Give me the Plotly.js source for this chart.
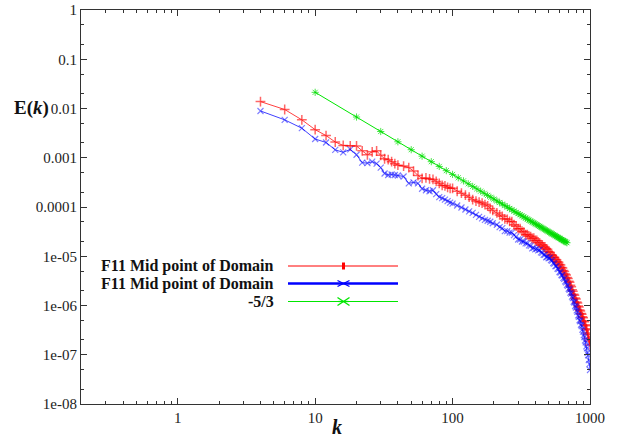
<!DOCTYPE html>
<html><head><meta charset="utf-8">
<script src="https://cdn.plot.ly/plotly-3.0.1.min.js"></script>
<style>html,body{margin:0;padding:0;background:#fff}#chart{width:622px;height:441px}</style>
</head><body><div id="chart"></div>
<script>
// wavenumbers of the two spectra
const kSpec = [4,6,8,10,12,14,16,18,20,22,24,26,28,30,32,34,36,38,40,
 44,48,52,56,60,64,68,72,76,80,84,88,92,96,100,
 108,116,124,132,140,148,156,164,172,180,188,196,
 210,220,230,240,250,260,270,280,290,300,310,320,330,340,350,360,370,380,390,400,
 410,420,430,440,450,460,470,480,490,500,510,520,530,540,550,560,570,580,590,600,
 610,620,630,640,650,660,670,680,690,700,710,720,730,740,750,760,770,780,790,800,
 810,820,830,840,850,860,870,880,890,900,910,920,930,940,950,960,970,980,990,1000];
// log10 E(k), red series
const log10E_red = [-1.86,-2.02,-2.23,-2.43,-2.55,-2.68,-2.75,-2.76,-2.76,-2.86,-2.94,-2.88,-2.86,-2.95,-3.02,-3.04,-3.08,-3.12,-3.15,
 -3.17,-3.20,-3.27,-3.36,-3.42,-3.41,-3.43,-3.44,-3.48,-3.52,-3.56,-3.57,-3.60,-3.62,-3.62,
 -3.68,-3.72,-3.76,-3.80,-3.85,-3.88,-3.90,-3.92,-3.95,-3.98,-4.03,-4.07,
 -4.12,-4.16,-4.19,-4.24,-4.25,-4.29,-4.30,-4.36,-4.39,-4.44,-4.44,-4.49,-4.51,-4.56,-4.56,-4.59,-4.60,-4.64,-4.63,-4.68,
 -4.68,-4.72,-4.73,-4.77,-4.77,-4.81,-4.81,-4.85,-4.86,-4.91,-4.92,-4.97,-4.98,-5.02,-5.02,-5.06,-5.07,-5.11,-5.12,-5.17,
 -5.18,-5.23,-5.24,-5.29,-5.31,-5.36,-5.38,-5.43,-5.45,-5.51,-5.53,-5.59,-5.62,-5.68,-5.71,-5.77,-5.79,-5.85,-5.87,-5.93,
 -5.95,-6.01,-6.03,-6.09,-6.11,-6.16,-6.18,-6.23,-6.25,-6.31,-6.33,-6.39,-6.41,-6.47,-6.49,-6.56,-6.59,-6.67,-6.72,-6.80];
// log10 E(k), blue series
const log10E_blue = [-2.05,-2.23,-2.40,-2.62,-2.69,-2.84,-2.89,-2.83,-2.94,-3.10,-3.11,-3.08,-3.12,-3.20,-3.32,-3.35,-3.34,-3.35,-3.36,
 -3.38,-3.52,-3.50,-3.52,-3.63,-3.66,-3.68,-3.66,-3.74,-3.80,-3.82,-3.85,-3.88,-3.91,-3.93,
 -3.97,-4.01,-4.05,-4.09,-4.12,-4.16,-4.20,-4.23,-4.26,-4.28,-4.30,-4.33,
 -4.36,-4.41,-4.43,-4.49,-4.49,-4.52,-4.52,-4.57,-4.60,-4.66,-4.66,-4.70,-4.70,-4.74,-4.74,-4.78,-4.79,-4.84,-4.83,-4.86,
 -4.85,-4.88,-4.87,-4.92,-4.93,-4.97,-4.97,-5.02,-5.01,-5.04,-5.03,-5.08,-5.09,-5.14,-5.15,-5.20,-5.20,-5.25,-5.26,-5.32,
 -5.33,-5.38,-5.39,-5.44,-5.46,-5.51,-5.53,-5.58,-5.60,-5.66,-5.68,-5.74,-5.76,-5.82,-5.85,-5.92,-5.94,-6.01,-6.04,-6.10,
 -6.13,-6.20,-6.23,-6.30,-6.32,-6.39,-6.42,-6.49,-6.53,-6.60,-6.64,-6.71,-6.75,-6.83,-6.87,-6.96,-7.01,-7.11,-7.19,-7.31];
// -5/3 reference line
const kSlope = [10,20,30,40,50,60,70,80,90,100,110,120,130,140,150,160,170,180,190,200,
 210,220,230,240,250,260,270,280,290,300,310,320,330,340,350,360,370,380,390,400,
 410,420,430,440,450,460,470,480,490,500,510,520,530,540,550,560,570,580,590,600,
 610,620,630,640,650,660,670,680];
const eSlope = [0.0213,0.00671,0.00341,0.00211,0.001457,0.001075,0.000832,0.000666,0.000547,0.000459,
 0.000392,0.000339,0.000296,0.000262,0.000234,0.00021,0.0001895,0.0001722,0.0001575,0.0001446,
 1.333e-4,1.234e-4,1.145e-4,1.067e-4,9.97e-5,9.34e-5,8.77e-5,8.25e-5,7.78e-5,7.36e-5,
 6.97e-5,6.61e-5,6.28e-5,5.97e-5,5.69e-5,5.43e-5,5.19e-5,4.96e-5,4.75e-5,4.55e-5,
 4.37e-5,4.20e-5,4.04e-5,3.89e-5,3.74e-5,3.61e-5,3.48e-5,3.36e-5,3.25e-5,3.14e-5,
 3.04e-5,2.94e-5,2.85e-5,2.76e-5,2.68e-5,2.60e-5,2.52e-5,2.45e-5,2.38e-5,2.32e-5,
 2.25e-5,2.19e-5,2.14e-5,2.08e-5,2.03e-5,1.98e-5,1.93e-5,1.88e-5];
const seriesNames = ['F11 Mid point of Domain','F11 Mid point of Domain','-5/3'];
const yTickVals = [1,0.1,0.01,0.001,0.0001,1e-5,1e-6,1e-7,1e-8];
const yTickText = ['1','0.1','0.01','0.001','0.0001','1e-05','1e-06','1e-07','1e-08'];
const xTickVals = [1,10,100,1000];
const xTickText = ['1','10','100','1000'];
const xMinorVals = [0.2,0.3,0.4,0.5,0.6,0.7,0.8,0.9,2,3,4,5,6,7,8,9,20,30,40,50,60,70,80,90,200,300,400,500,600,700,800,900];
const yMinorVals = [0.5,0.2,0.05,0.02,0.005,0.002,5e-4,2e-4,5e-5,2e-5,5e-6,2e-6,5e-7,2e-7,5e-8,2e-8];

const eRed = log10E_red.map(v => Math.pow(10, v));
const eBlue = log10E_blue.map(v => Math.pow(10, v));

const traces = [
 {x:kSpec, y:eRed, name:seriesNames[0], type:'scatter', mode:'lines+markers',
  line:{color:'rgba(255,0,0,0.75)', width:1},
  marker:{symbol:'cross-thin', size:7, color:'rgba(255,0,0,0.6)', line:{color:'rgba(255,0,0,0.6)', width:1.5}}},
 {x:kSpec, y:eBlue, name:seriesNames[1], type:'scatter', mode:'lines+markers',
  line:{color:'rgba(0,0,255,0.75)', width:1},
  marker:{symbol:'x-thin', size:6, color:'rgba(0,0,255,0.5)', line:{color:'rgba(0,0,255,0.5)', width:1.2}}},
 {x:kSlope, y:eSlope, name:seriesNames[2], type:'scatter', mode:'lines+markers',
  line:{color:'#00e600', width:1},
  marker:{symbol:'asterisk-open', size:6, color:'rgba(0,220,0,0.7)', line:{color:'rgba(0,220,0,0.7)', width:1}}}
];

const serif = 'Liberation Serif';
const L = 81, R = 590, T = 10, B = 404;
const px = x => (x - L) / (R - L);
const py = y => (B - y) / (B - T);

const legendRows = [
 {y:266, color:'#ff0000', width:1},
 {y:283.5, color:'#0000ff', width:2.5},
 {y:301.5, color:'#00e600', width:1}
];
const shapes = [];
const annotations = [];
legendRows.forEach((r, i) => {
 shapes.push({type:'line', xref:'paper', yref:'paper', x0:px(288), x1:px(398), y0:py(r.y), y1:py(r.y),
   line:{color:r.color, width:r.width}});
 annotations.push({xref:'paper', yref:'paper', x:px(276), y:py(r.y), xanchor:'right', yanchor:'middle',
   text:'<b>'+seriesNames[i]+'</b>', showarrow:false, font:{family:serif, size:16, color:'#111'}});
});
const mx = px(343.5);
shapes.push({type:'rect', xref:'paper', yref:'paper', xsizemode:'pixel', ysizemode:'pixel', xanchor:mx, yanchor:py(266),
 x0:-1.5, x1:1.5, y0:-3.5, y1:3.5, fillcolor:'#ff0000', line:{width:0}});
[[-6,-3,6,3],[-6,3,6,-3]].forEach(s => shapes.push({type:'line', xref:'paper', yref:'paper', xsizemode:'pixel', ysizemode:'pixel',
 xanchor:mx, yanchor:py(283.5), x0:s[0], y0:s[1], x1:s[2], y1:s[3], line:{color:'#0000ff', width:1.3}}));
[[-6,-4,6,4],[-6,4,6,-4],[-5,0,5,0]].forEach(s => shapes.push({type:'line', xref:'paper', yref:'paper', xsizemode:'pixel', ysizemode:'pixel',
 xanchor:mx, yanchor:py(301.5), x0:s[0], y0:s[1], x1:s[2], y1:s[3], line:{color:'#00e600', width:1.3}}));

annotations.push({xref:'paper', yref:'paper', x:px(31), y:py(108), xanchor:'center', yanchor:'middle',
 text:'<b>E(<i>k</i>)</b>', showarrow:false, font:{family:serif, size:19, color:'#111'}});
annotations.push({xref:'paper', yref:'paper', x:px(337), y:py(427), xanchor:'center', yanchor:'middle',
 text:'<b><i>k</i></b>', showarrow:false, font:{family:serif, size:20, color:'#111'}});

const axisCommon = {
 type:'log', showgrid:false, zeroline:false, showline:true, linecolor:'#333', linewidth:1,
 mirror:'ticks', ticks:'inside', ticklen:6, tickcolor:'#333', tickwidth:1,
 tickfont:{family:serif, size:15, color:'#222'}, tickmode:'array'
};

const layout = {
 width:622, height:441,
 margin:{l:L, r:622-R, t:T, b:441-B},
 paper_bgcolor:'#fff', plot_bgcolor:'#fff',
 showlegend:false,
 xaxis:Object.assign({}, axisCommon, {range:[-0.704, 3], tickvals:xTickVals, ticktext:xTickText,
   minor:{ticks:'inside', ticklen:3, tickcolor:'#333', tickmode:'array', tickvals:xMinorVals, showgrid:false}}),
 yaxis:Object.assign({}, axisCommon, {range:[-8, 0], tickvals:yTickVals, ticktext:yTickText,
   minor:{ticks:'inside', ticklen:3, tickcolor:'#333', tickmode:'array', tickvals:yMinorVals, showgrid:false}}),
 shapes:shapes, annotations:annotations
};
Plotly.newPlot('chart', traces, layout, {displayModeBar:false, staticPlot:true});
</script></body></html>
